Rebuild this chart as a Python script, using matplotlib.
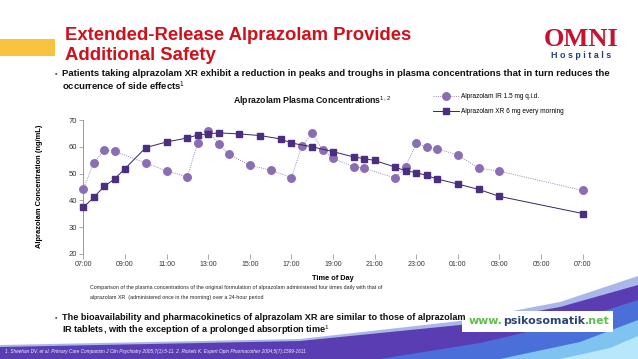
import numpy as np
import matplotlib
matplotlib.use("Agg")
import matplotlib.pyplot as plt

plt.rcParams["font.family"] = ["Liberation Sans", "DejaVu Sans"]
plt.rcParams["mathtext.fontset"] = "custom"
plt.rcParams["mathtext.rm"] = "Liberation Sans"
plt.rcParams["mathtext.bf"] = "Liberation Sans:bold"

# ─── data (hours after 07:00) ─────────────────────────────────────────
ir_hours = [0, 0.5, 1, 1.5, 3, 4, 5, 5.5, 6, 6.5, 7, 8, 9, 10, 10.5, 11, 11.5,
            12, 13, 13.5, 15, 15.5, 16, 16.5, 17, 18, 19, 20, 24]
ir_conc = [44.2, 54.0, 58.8, 58.3, 54.0, 51.0, 48.8, 61.4, 65.8, 61.2, 57.2,
           53.1, 51.3, 48.5, 60.2, 65.0, 58.8, 55.7, 52.5, 52.0, 48.3, 52.6,
           61.3, 59.9, 59.2, 57.0, 52.0, 50.9, 43.7]

xr_hours = [0, 0.5, 1, 1.5, 2, 3, 4, 5, 5.5, 6, 6.5, 7.5, 8.5, 9.5, 10, 11, 12,
            13, 13.5, 14, 15, 15.5, 16, 16.5, 17, 18, 19, 20, 24]
xr_conc = [37.4, 41.1, 45.2, 48.0, 51.8, 59.7, 61.8, 63.3, 64.4, 64.8, 65.2,
           64.8, 64.2, 62.9, 61.4, 60.0, 58.2, 56.2, 55.6, 54.9, 52.4, 51.0,
           50.4, 49.3, 48.0, 46.1, 44.1, 41.5, 35.1]

tick_hours = list(range(0, 25, 2))
tick_labels = ["07:00", "09:00", "11:00", "13:00", "15:00", "17:00", "19:00",
               "21:00", "23:00", "01:00", "03:00", "05:00", "07:00"]
y_ticks = [20, 30, 40, 50, 60, 70]

W, H = 638, 359
fig = plt.figure(figsize=(W / 100, H / 100), dpi=100)
fig.patch.set_facecolor("white")

# ─── background (pixel coords) ────────────────────────────────────────
bg = fig.add_axes([0, 0, 1, 1], zorder=0)
bg.set_xlim(0, W)
bg.set_ylim(H, 0)
bg.axis("off")

xs = np.linspace(0, W, 300)
def curve(px, py):
    return np.interp(xs, px, py)

# swoosh at the bottom
bg.fill_between(xs, curve([0, 300, 460, 560, 638], [345, 339, 321, 302, 276]), H,
                color="#a9b8e8", lw=0)
bg.fill_between(xs, curve([0, 300, 460, 560, 638], [347, 341, 325, 307, 285]), H,
                color="#5b3db3", lw=0)
bg.fill_between(xs, curve([0, 380, 480, 570, 638], [359, 359, 343, 322, 300]), H,
                color="#4a6fd8", lw=0)
bg.fill_between(xs, curve([0, 500, 580, 638], [359, 359, 342, 320]), H,
                color="#7fc3f0", lw=0)
bg.fill_between(xs, curve([0, 560, 610, 638], [359, 359, 348, 336]), H,
                color="#b8e6fa", lw=0)

# yellow accent bar
bg.fill_between([0, 55], 39, 56, color="#f8c440", lw=0)

# title
bg.text(65, 35, "Extended-Release Alprazolam Provides", color="#d0101a",
        fontsize=13.3, fontweight="bold", va="center", ha="left")
bg.text(65, 56, "Additional Safety", color="#d0101a",
        fontsize=13.3, fontweight="bold", va="center", ha="left")

# logo
bg.text(581, 40, "OMNI", color="#c4122f", fontsize=19, fontweight="bold",
        family="Liberation Serif", ha="center", va="center")
bg.text(581, 56, "H o s p i t a l s", color="#1f3e7a", fontsize=6.4,
        fontweight="bold", ha="center", va="center")

# bullets
bg.text(55, 74, "▪", color="#3d5a8a", fontsize=5, va="center")
bg.text(62, 74, "Patients taking alprazolam XR exhibit a reduction in peaks and troughs "
        "in plasma concentrations that in turn reduces the", fontsize=6.8,
        fontweight="bold", va="center", color="#111111")
bg.text(62, 86, "occurrence of side effects$^{1}$", fontsize=6.8,
        fontweight="bold", va="center", color="#111111")

bg.text(312, 101, r"Alprazolam Plasma Concentrations$^{1,2}$", fontsize=6.3,
        fontweight="bold", ha="center", va="center", color="#111111")

bg.text(90, 288, "Comparison of the plasma concentrations of the original formulation of "
        "alprazolam administered four times daily with that of", fontsize=3.8,
        va="center", color="#222222")
bg.text(90, 297, "alprazolam XR  (administered once in the morning) over a 24-hour period",
        fontsize=3.8, va="center", color="#222222")

bg.text(55, 318, "▪", color="#3d5a8a", fontsize=5, va="center")
bg.text(62, 318, "The bioavailability and pharmacokinetics of alprazolam XR are similar "
        "to those of alprazolam", fontsize=6.55, fontweight="bold", va="center",
        color="#111111")
bg.text(62, 330, "IR tablets, with the exception of a prolonged absorption time$^{1}$",
        fontsize=6.55, fontweight="bold", va="center", color="#111111")

bg.text(5, 352, "1. Sheehan DV, et al. Primary Care Companion J Clin Psychiatry 2005;7(1):5-11. "
        "2. Rickels K. Expert Opin Pharmacother 2004;5(7):1599-1611.",
        fontsize=3.4, style="italic", color="#eeeeff", va="center")

# psikosomatik box
bg.fill_between([462, 613], 311, 332, color="white", lw=0)
fig.canvas.draw()
renderer = fig.canvas.get_renderer()
x0 = 469
for part, col in [("www.", "#5cc04a"), ("psikosomatik", "#2b4178"), (".net", "#5cc04a")]:
    t = bg.text(x0, 321.5, part, color=col, fontsize=7.9, fontweight="bold",
                family="DejaVu Sans", va="center", ha="left")
    x0 += t.get_window_extent(renderer).width

# ─── chart ────────────────────────────────────────────────────────────
left, right = 83.3 / W, 582.7 / W
top, bottom = 1 - 120 / H, 1 - 254 / H
ax = fig.add_axes([left, bottom, right - left, top - bottom], zorder=2)
ax.patch.set_alpha(0)

ir_line, = ax.plot(ir_hours, ir_conc, ls=(0, (1.2, 1.5)), lw=0.6, color="#8c7aa8",
                   marker="o", ms=5.4, mfc="#8a6db3", mec="#8a6db3", clip_on=False,
                   zorder=3)
xr_line, = ax.plot(xr_hours, xr_conc, ls="-", lw=0.7, color="#3a2266",
                   marker="s", ms=4.5, mfc="#4b2e80", mec="#4b2e80", clip_on=False,
                   zorder=4)

ax.set_xlim(0, 24)
ax.set_ylim(20, 70)
ax.set_xticks(tick_hours)
ax.set_xticklabels(tick_labels)
ax.set_yticks(y_ticks)
for s in ["top", "right", "bottom"]:
    ax.spines[s].set_visible(False)
ax.spines["left"].set_color("#888888")
ax.spines["left"].set_linewidth(0.6)
ax.tick_params(axis="x", length=3.5, width=0.5, color="#888888", labelsize=5,
               labelcolor="#333333", pad=1.5)
ax.tick_params(axis="y", length=3, width=0.5, color="#888888", labelsize=5.5,
               labelcolor="#333333", pad=1.5)

ax.set_xlabel("Time of Day", fontsize=5.3, fontweight="bold", labelpad=5)
fig.text(40 / W, 1 - 186 / H, "Alprazolam Concentration (ng/mL)", rotation=90,
         fontsize=5.4, fontweight="bold", ha="center", va="center")

fig.legend([ir_line, xr_line],
           ["Alprazolam IR 1.5 mg q.i.d.", "Alprazolam XR 6 mg every morning"],
           loc="upper left", bbox_to_anchor=(433 / W, 1 - 93 / H), frameon=False,
           fontsize=4.7, handlelength=4.0, labelspacing=1.3, handletextpad=0.3,
           borderaxespad=0, borderpad=0)

fig.savefig("out.png", dpi=100, facecolor="white")
